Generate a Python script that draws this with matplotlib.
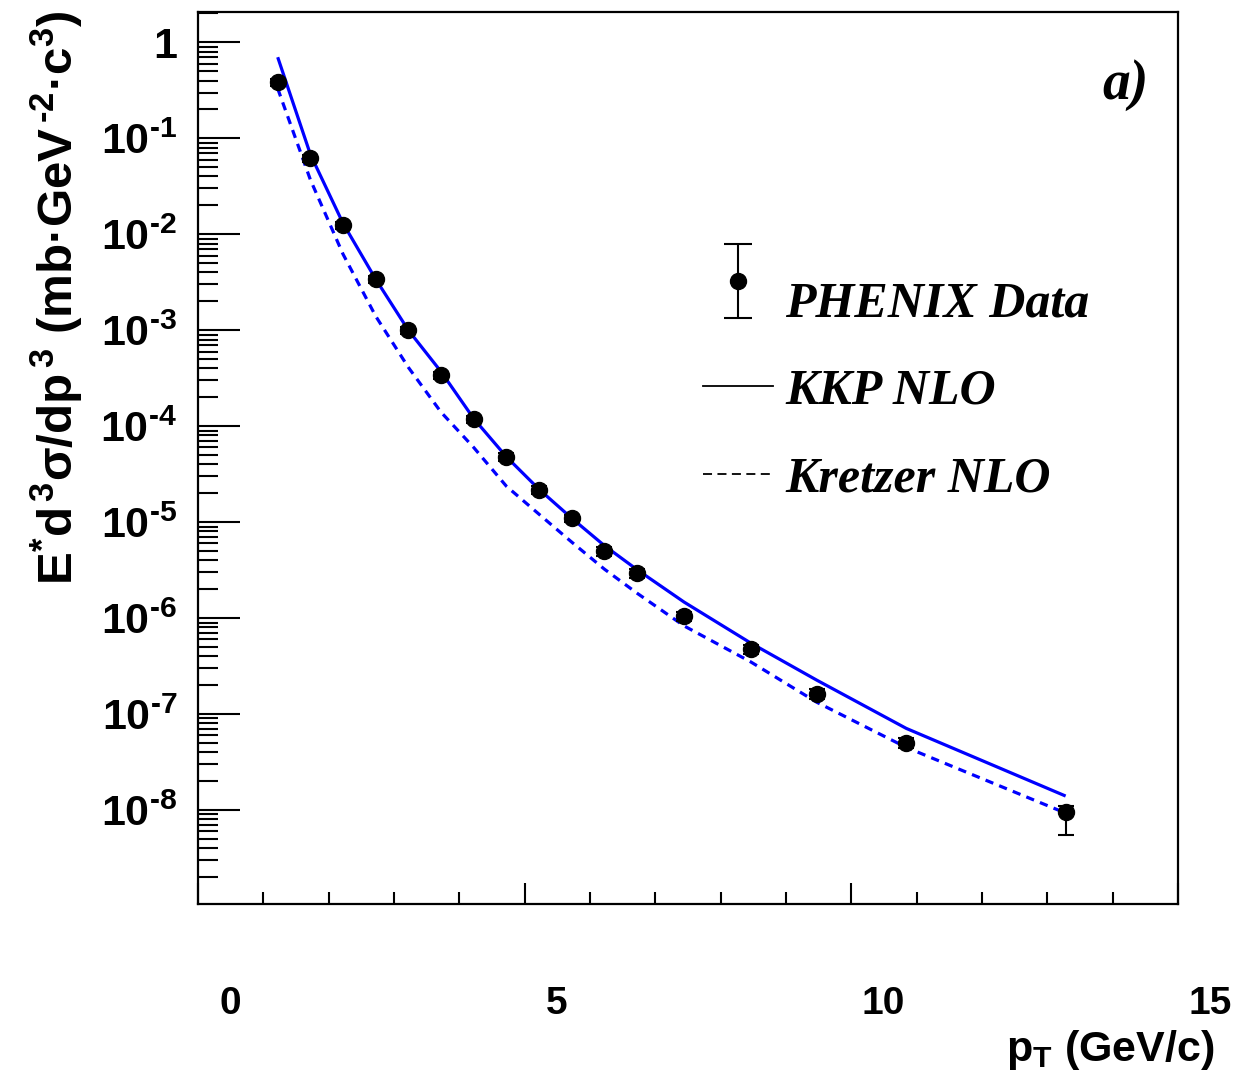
import numpy as np
import matplotlib
matplotlib.use("Agg")
import matplotlib.pyplot as plt
from matplotlib.lines import Line2D
from matplotlib.transforms import ScaledTranslation
from matplotlib.ticker import FixedLocator, FixedFormatter, LogLocator, NullFormatter, MultipleLocator
from matplotlib.legend_handler import HandlerErrorbar

# ---------------- data ----------------
pt = [1.22, 1.72, 2.22, 2.72, 3.22, 3.72, 4.22, 4.72, 5.22, 5.72,
      6.22, 6.72, 7.44, 8.46, 9.47, 10.84, 13.28]
phenix = [0.383, 0.062, 0.0124, 3.4e-3, 1.0e-3, 3.4e-4, 1.18e-4, 4.75e-5, 2.16e-5, 1.10e-5,
          4.99e-6, 2.94e-6, 1.05e-6, 4.76e-7, 1.62e-7, 4.99e-8, 9.5e-9]
err_low = [0.03, 0.005, 0.001, 3.0e-4, 9.0e-5, 3.0e-5, 1.1e-5, 4.5e-6, 2.0e-6, 1.0e-6,
           5.0e-7, 3.0e-7, 1.1e-7, 5.0e-8, 2.0e-8, 6.0e-9, 4.0e-9]
err_high = [0.03, 0.005, 0.001, 3.0e-4, 9.0e-5, 3.0e-5, 1.1e-5, 4.5e-6, 2.0e-6, 1.0e-6,
            5.0e-7, 3.0e-7, 1.1e-7, 5.0e-8, 2.0e-8, 6.0e-9, 1.5e-9]
kkp_nlo = [0.70, 0.068, 0.013, 3.4e-3, 1.0e-3, 3.7e-4, 1.2e-4, 4.8e-5, 2.2e-5, 1.1e-5,
           5.7e-6, 3.2e-6, 1.47e-6, 5.5e-7, 2.26e-7, 7.1e-8, 1.40e-8]
kretzer_nlo = [0.33, 0.037, 6.2e-3, 1.4e-3, 4.1e-4, 1.4e-4, 6.0e-5, 2.37e-5, 1.21e-5, 6.2e-6,
               3.24e-6, 1.82e-6, 8.3e-7, 3.5e-7, 1.33e-7, 4.5e-8, 9.3e-9]

HY = "\u2010"
y_major = [1, 1e-1, 1e-2, 1e-3, 1e-4, 1e-5, 1e-6, 1e-7, 1e-8]
y_exponents = ["", "1", "2", "3", "4", "5", "6", "7", "8"]
y_labels = ["1"] + [r"$\mathregular{10^{" + HY + e + "}}$" for e in y_exponents[1:]]
x_major = [0, 5, 10, 15]
x_labels = ["0", "5", "10", "15"]
legend_labels = ["PHENIX Data", "KKP NLO", "Kretzer NLO"]
DOT = "\u00b7"
y_title = (r"$\mathregular{E^{*}d^{\,3}\sigma/dp^{\,3}}$ $\mathregular{(mb" + DOT +
           r"GeV^{\," + HY + "2}" + DOT + r"c^{3})}$")
x_title = r"$\mathregular{p_{T}}$ (GeV/c)"

# ---------------- style ----------------
plt.rcParams["font.family"] = ["Liberation Sans", "DejaVu Sans"]
plt.rcParams["font.weight"] = "bold"
plt.rcParams["mathtext.fontset"] = "custom"
plt.rcParams["mathtext.rm"] = "Liberation Sans:bold"
plt.rcParams["mathtext.it"] = "Liberation Sans:italic:bold"
plt.rcParams["mathtext.bf"] = "Liberation Sans:bold"

fig = plt.figure(figsize=(12.38, 10.82), dpi=100)
ax = fig.add_axes([198 / 1238, 1 - 904 / 1082, 980 / 1238, 892 / 1082])

blue = "#0000ff"
ax.plot(pt, kkp_nlo, color=blue, lw=2.3, solid_capstyle="butt")
ax.plot(pt, kretzer_nlo, color=blue, lw=2.3, linestyle=(0, (2.6, 2.0)))
eb = ax.errorbar(pt, phenix, yerr=[err_low, err_high], fmt="o", color="black",
                 markersize=11.5, elinewidth=1.5, capsize=5.5, capthick=1.5, zorder=5)

ax.set_xlim(0, 15)
ax.set_yscale("log")
ax.set_ylim(1.05e-9, 2.07)

ax.yaxis.set_major_locator(FixedLocator(y_major))
ax.yaxis.set_major_formatter(FixedFormatter(y_labels))
ax.yaxis.set_minor_locator(LogLocator(base=10, subs=np.arange(2, 10)))
ax.yaxis.set_minor_formatter(NullFormatter())
ax.xaxis.set_major_locator(FixedLocator(x_major))
ax.xaxis.set_major_formatter(FixedFormatter(x_labels))
ax.xaxis.set_minor_locator(MultipleLocator(1))

ax.tick_params(axis="y", which="major", direction="in", length=30, width=1.5,
               labelsize=31, pad=15, right=False)
ax.tick_params(axis="y", which="minor", direction="in", length=14.4, width=1.5, right=False)
ax.tick_params(axis="x", which="major", direction="in", length=15, width=1.5,
               labelsize=28, pad=59, top=False)
ax.tick_params(axis="x", which="minor", direction="in", length=8.6, width=1.5, top=False)

for lbl in ax.get_xticklabels():
    lbl.set_transform(lbl.get_transform() + ScaledTranslation(0.32, 0, fig.dpi_scale_trans))

for s in ax.spines.values():
    s.set_linewidth(1.6)


class RaisedErrorbarHandler(HandlerErrorbar):
    def create_artists(self, legend, orig_handle, xdescent, ydescent, width, height,
                       fontsize, trans):
        return super().create_artists(legend, orig_handle, xdescent, ydescent - 26,
                                      width, height, fontsize, trans)


# legend
proxy_err = ax.errorbar([np.nan], [np.nan], yerr=[[np.nan], [np.nan]], fmt="o", color="black",
                        markersize=11.5, elinewidth=1.5, capsize=10, capthick=1.5)
h_kkp = Line2D([], [], color="black", lw=1.3)
h_kre = Line2D([], [], color="black", lw=1.3, linestyle=(0, (5, 3)))
leg = ax.legend([proxy_err, h_kkp, h_kre], legend_labels,
                handler_map={type(proxy_err): RaisedErrorbarHandler(yerr_size=0.74)},
                loc="upper left", bbox_to_anchor=(0.515, 0.698), frameon=False,
                prop={"family": "Liberation Serif", "style": "italic", "weight": "bold", "size": 36},
                handlelength=1.4, handletextpad=0.25, labelspacing=0.83, borderpad=0,
                borderaxespad=0)

ax.text(0.97, 0.918, "a)", transform=ax.transAxes, ha="right", va="center",
        family="Liberation Serif", style="italic", weight="bold", fontsize=40)

fig.text(57 / 1238, 1 - 10 / 1082, y_title,
         rotation=90, ha="center", va="top", fontsize=35.5, weight="bold")
fig.text(1215 / 1238, 1 - 1050 / 1082, x_title,
         ha="right", va="center", fontsize=31, weight="bold")

fig.savefig("out.png", dpi=100)
